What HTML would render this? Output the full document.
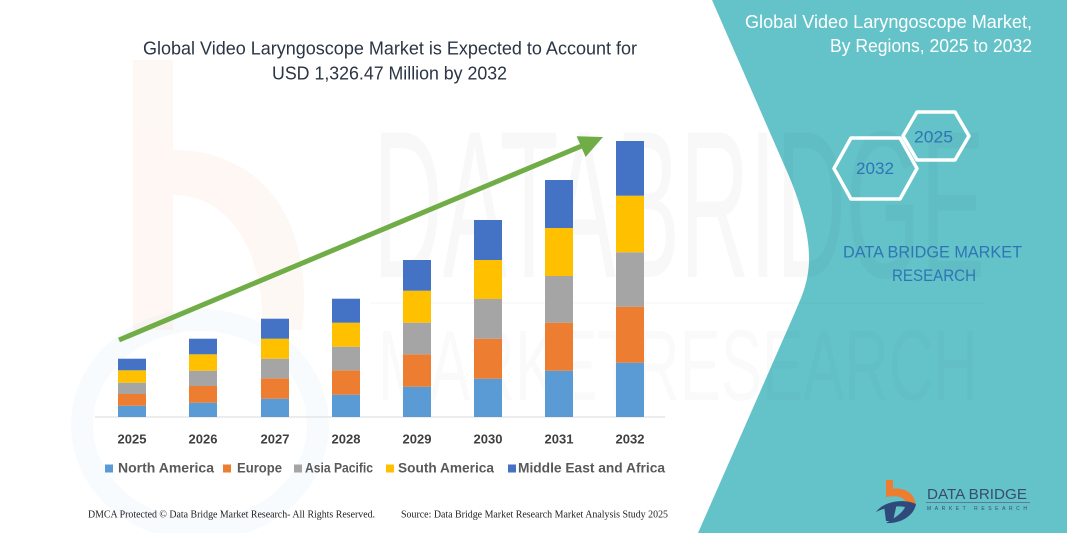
<!DOCTYPE html>
<html>
<head>
<meta charset="utf-8">
<style>
  html, body { margin: 0; padding: 0; background: #fff; }
  body { width: 1067px; height: 533px; overflow: hidden; }
  svg { display: block; }
  text { font-family: "Liberation Sans", "DejaVu Sans", sans-serif; }
  .serif { font-family: "Liberation Serif", "DejaVu Serif", serif; }
</style>
</head>
<body>
<svg width="1067" height="533" viewBox="0 0 1067 533" xmlns="http://www.w3.org/2000/svg">
  <rect width="1067" height="533" fill="#ffffff"/>

  <!-- faint b-logo watermark on the left -->
  <g opacity="0.05">
    <rect x="133" y="60" width="40" height="270" fill="#ED7D31"/>
    <path d="M173,150 C265,150 315,225 302,330 L262,330 C265,255 232,195 173,195 Z" fill="#ED7D31"/>
  </g>
  <ellipse cx="200" cy="425" rx="118" ry="105" fill="none" stroke="#5B9BD5" stroke-width="22" opacity="0.045"/>

  <!-- teal right panel -->
  <path d="M712,0 L785,167 C800,200 810,235 809,262 C808,285 800,300 796,310 L698,533 L1067,533 L1067,0 Z" fill="#63C3C9"/>

  <!-- big watermark text -->
  <text x="373" y="277" font-size="210" textLength="612" lengthAdjust="spacingAndGlyphs" fill="#000" opacity="0.022">DATABRIDGE</text>
  <rect x="370" y="302" width="615" height="2" fill="#000" opacity="0.02"/>
  <text x="378" y="400" font-size="100" textLength="600" lengthAdjust="spacingAndGlyphs" fill="#000" opacity="0.014">MARKETRESEARCH</text>

  <!-- main title -->
  <text x="143" y="54.5" font-size="18" fill="#2B3544" textLength="494" lengthAdjust="spacingAndGlyphs">Global Video Laryngoscope Market is Expected to Account for</text>
  <text x="272" y="79.5" font-size="18" fill="#2B3544" textLength="235" lengthAdjust="spacingAndGlyphs">USD 1,326.47 Million by 2032</text>

  <!-- axis baseline -->
  <rect x="95" y="416.5" width="570" height="1" fill="#D9D9D9"/>

  <!-- bars: NA, EU, AP, SA, MEA -->
  <g>
    <!-- 2025 -->
    <rect x="118" y="405.7" width="28" height="11.3" fill="#5B9BD5"/>
    <rect x="118" y="394" width="28" height="11.7" fill="#ED7D31"/>
    <rect x="118" y="382.7" width="28" height="11.3" fill="#A5A5A5"/>
    <rect x="118" y="370.3" width="28" height="12.4" fill="#FFC000"/>
    <rect x="118" y="358.7" width="28" height="11.6" fill="#4472C4"/>
    <!-- 2026 -->
    <rect x="189" y="402.7" width="28" height="14.3" fill="#5B9BD5"/>
    <rect x="189" y="386" width="28" height="16.7" fill="#ED7D31"/>
    <rect x="189" y="370.7" width="28" height="15.3" fill="#A5A5A5"/>
    <rect x="189" y="354.3" width="28" height="16.4" fill="#FFC000"/>
    <rect x="189" y="338.7" width="28" height="15.6" fill="#4472C4"/>
    <!-- 2027 -->
    <rect x="261" y="398.7" width="28" height="18.3" fill="#5B9BD5"/>
    <rect x="261" y="378.3" width="28" height="20.4" fill="#ED7D31"/>
    <rect x="261" y="358.7" width="28" height="19.6" fill="#A5A5A5"/>
    <rect x="261" y="338.7" width="28" height="20" fill="#FFC000"/>
    <rect x="261" y="318.7" width="28" height="20" fill="#4472C4"/>
    <!-- 2028 -->
    <rect x="332" y="394.7" width="28" height="22.3" fill="#5B9BD5"/>
    <rect x="332" y="370.3" width="28" height="24.4" fill="#ED7D31"/>
    <rect x="332" y="346.7" width="28" height="23.6" fill="#A5A5A5"/>
    <rect x="332" y="322.7" width="28" height="24" fill="#FFC000"/>
    <rect x="332" y="298.7" width="28" height="24" fill="#4472C4"/>
    <!-- 2029 -->
    <rect x="403" y="386.7" width="28" height="30.3" fill="#5B9BD5"/>
    <rect x="403" y="354.3" width="28" height="32.4" fill="#ED7D31"/>
    <rect x="403" y="322.7" width="28" height="31.6" fill="#A5A5A5"/>
    <rect x="403" y="290.7" width="28" height="32" fill="#FFC000"/>
    <rect x="403" y="260" width="28" height="30.7" fill="#4472C4"/>
    <!-- 2030 -->
    <rect x="474" y="378.7" width="28" height="38.3" fill="#5B9BD5"/>
    <rect x="474" y="338.7" width="28" height="40" fill="#ED7D31"/>
    <rect x="474" y="299" width="28" height="39.7" fill="#A5A5A5"/>
    <rect x="474" y="260" width="28" height="39" fill="#FFC000"/>
    <rect x="474" y="220" width="28" height="40" fill="#4472C4"/>
    <!-- 2031 -->
    <rect x="545" y="370.7" width="28" height="46.3" fill="#5B9BD5"/>
    <rect x="545" y="322.7" width="28" height="48" fill="#ED7D31"/>
    <rect x="545" y="276" width="28" height="46.7" fill="#A5A5A5"/>
    <rect x="545" y="228" width="28" height="48" fill="#FFC000"/>
    <rect x="545" y="180" width="28" height="48" fill="#4472C4"/>
    <!-- 2032 -->
    <rect x="616" y="362.7" width="28" height="54.3" fill="#5B9BD5"/>
    <rect x="616" y="306.7" width="28" height="56" fill="#ED7D31"/>
    <rect x="616" y="252.3" width="28" height="54.4" fill="#A5A5A5"/>
    <rect x="616" y="195.7" width="28" height="56.6" fill="#FFC000"/>
    <rect x="616" y="141" width="28" height="54.7" fill="#4472C4"/>
  </g>

  <!-- green arrow -->
  <line x1="119" y1="340" x2="584" y2="145" stroke="#70AD47" stroke-width="5"/>
  <polygon points="603,137 576.6,136.2 585.6,157" fill="#70AD47"/>

  <!-- year labels -->
  <g font-size="13" font-weight="bold" fill="#404040" text-anchor="middle">
    <text x="132" y="443.6">2025</text>
    <text x="203" y="443.6">2026</text>
    <text x="275" y="443.6">2027</text>
    <text x="346" y="443.6">2028</text>
    <text x="417" y="443.6">2029</text>
    <text x="488" y="443.6">2030</text>
    <text x="559" y="443.6">2031</text>
    <text x="630" y="443.6">2032</text>
  </g>

  <!-- legend -->
  <g font-size="13.5" font-weight="bold" fill="#595959">
    <rect x="105" y="464.5" width="8" height="8" fill="#5B9BD5"/>
    <text x="118" y="472.7" textLength="96" lengthAdjust="spacingAndGlyphs">North America</text>
    <rect x="223" y="464.5" width="8" height="8" fill="#ED7D31"/>
    <text x="237" y="472.7" textLength="45" lengthAdjust="spacingAndGlyphs">Europe</text>
    <rect x="294" y="464.5" width="8" height="8" fill="#A5A5A5"/>
    <text x="305" y="472.7" textLength="68" lengthAdjust="spacingAndGlyphs">Asia Pacific</text>
    <rect x="386" y="464.5" width="8" height="8" fill="#FFC000"/>
    <text x="398" y="472.7" textLength="96" lengthAdjust="spacingAndGlyphs">South America</text>
    <rect x="508" y="464.5" width="8" height="8" fill="#4472C4"/>
    <text x="518" y="472.7" textLength="147" lengthAdjust="spacingAndGlyphs">Middle East and Africa</text>
  </g>

  <!-- footer -->
  <text class="serif" x="88" y="517.5" font-size="10" fill="#222" textLength="287" lengthAdjust="spacingAndGlyphs">DMCA Protected © Data Bridge Market Research-  All Rights Reserved.</text>
  <text class="serif" x="401" y="517.5" font-size="10" fill="#222" textLength="267" lengthAdjust="spacingAndGlyphs">Source: Data Bridge Market Research  Market Analysis Study 2025</text>

  <!-- right panel title -->
  <text x="745" y="28" font-size="18.5" fill="#ffffff" textLength="287" lengthAdjust="spacingAndGlyphs">Global Video Laryngoscope Market,</text>
  <text x="830" y="52" font-size="18.5" fill="#ffffff" textLength="202" lengthAdjust="spacingAndGlyphs">By Regions, 2025 to 2032</text>

  <!-- hexagons -->
  <polygon points="903,136 917,112 955,112 969,136 955,160 917,160" fill="none" stroke="#ffffff" stroke-width="3.5" stroke-linejoin="round"/>
  <polygon points="834,168.5 851,138 900,138 917,168.5 900,199 851,199" fill="none" stroke="#ffffff" stroke-width="3.5" stroke-linejoin="round"/>
  <text x="914" y="142.5" font-size="16.5" fill="#2E75B6" textLength="39" lengthAdjust="spacingAndGlyphs">2025</text>
  <text x="856" y="174" font-size="16.5" fill="#2E75B6" textLength="38" lengthAdjust="spacingAndGlyphs">2032</text>

  <!-- DBMR text -->
  <text x="843" y="257.5" font-size="17" fill="#2F75B5" textLength="179" lengthAdjust="spacingAndGlyphs">DATA BRIDGE MARKET</text>
  <text x="892" y="281" font-size="17" fill="#2F75B5" textLength="84" lengthAdjust="spacingAndGlyphs">RESEARCH</text>

  <!-- logo bottom right -->
  <g>
    <rect x="886" y="480" width="7" height="14" fill="#ED7D31"/>
    <path d="M886,490 C900,486 914,490 916,505 L907,505 C905,497 898,495 886,497 Z" fill="#ED7D31"/>
    <path d="M876,512 C885,500 905,499 916,504 C914,516 900,524 886,523 C893,519 903,513 905,507 C895,505 884,508 876,512 Z" fill="#2F4A7A"/>
    <path d="M884,506 C888,504 893,503 897,503 L893,521 L886,521 Z" fill="#2F4A7A"/>
  </g>
  <text x="927" y="499" font-size="15" fill="#3B4B6B" textLength="100" lengthAdjust="spacingAndGlyphs">DATA BRIDGE</text>
  <rect x="926" y="502" width="104" height="0.8" fill="#5A6A88"/>
  <text x="927" y="510" font-size="5" fill="#3B4B6B" textLength="100" lengthAdjust="spacing">MARKET RESEARCH</text>
</svg>
</body>
</html>
